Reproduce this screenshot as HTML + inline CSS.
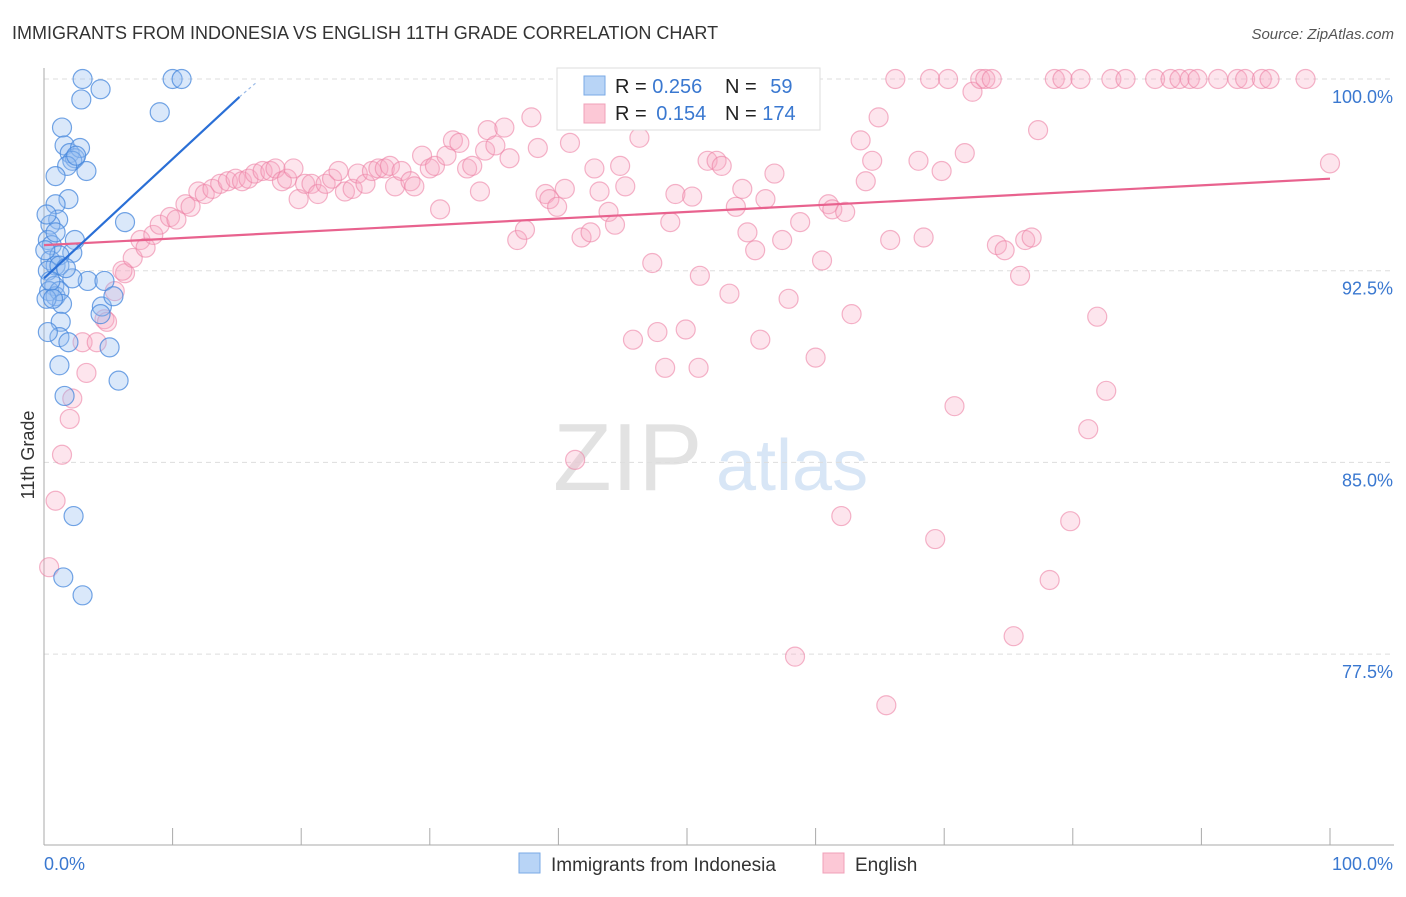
<!DOCTYPE html>
<html><head><meta charset="utf-8"><style>
body{margin:0;background:#fff;font-family:"Liberation Sans",sans-serif;}
svg text{font-family:"Liberation Sans",sans-serif;}
</style></head><body>
<svg id="chart" width="1406" height="892" xmlns="http://www.w3.org/2000/svg">
<text x="12" y="39" font-size="18" fill="#333">IMMIGRANTS FROM INDONESIA VS ENGLISH 11TH GRADE CORRELATION CHART</text>
<text x="1394" y="39" font-size="15" fill="#555" font-style="italic" text-anchor="end">Source: ZipAtlas.com</text>
<g>
<text x="553" y="490" font-size="96" fill="#e2e2e2" font-family="Liberation Serif,serif">ZIP</text>
<text x="716" y="490" font-size="72" fill="#d8e6f6">atlas</text>
</g>
<g id="grid"></g><g id="axes"></g><g id="marks"></g><g id="lines"></g>
<text transform="translate(34,455) rotate(-90)" font-size="18" fill="#333" text-anchor="middle">11th Grade</text>
<g>
<rect x="557" y="68" width="263" height="62" fill="#fff" stroke="#ddd"/>
<rect x="584" y="76" width="21" height="19" fill="#b8d4f6" stroke="#7aaae6"/>
<rect x="584" y="104" width="21" height="19" fill="#fcc8d6" stroke="#f0a0b8"/>
<text x="615" y="93" font-size="20" fill="#222">R = <tspan fill="#3a78d0">0.256</tspan></text>
<text x="725" y="93" font-size="20" fill="#222">N = <tspan fill="#3a78d0" dx="8">59</tspan></text>
<text x="615" y="120" font-size="20" fill="#222">R = <tspan fill="#3a78d0" dx="4">0.154</tspan></text>
<text x="725" y="120" font-size="20" fill="#222">N = <tspan fill="#3a78d0">174</tspan></text>
</g>
<g>
<rect x="519" y="853" width="21" height="20" fill="#b8d4f6" stroke="#7aaae6"/>
<text x="551" y="871" font-size="19" fill="#333">Immigrants from Indonesia</text>
<rect x="823" y="853" width="21" height="20" fill="#fcc8d6" stroke="#f0a0b8"/>
<text x="855" y="871" font-size="19" fill="#333">English</text>
</g>
</svg>
<script>
const yTicks=[100,92.5,85,77.5];
const yTickLabels=["100.0%","92.5%","85.0%","77.5%"];
const xTickLabels=["0.0%","100.0%"];
const blueX=[3.0,4.4,2.9,10.0,10.7,9.0,1.4,1.6,2.0,2.4,2.8,2.2,1.8,3.3,0.9,2.5,1.9,0.9,1.1,0.5,0.3,0.6,2.4,0.5,0.9,2.2,1.2,0.3,1.2,0.8,0.4,0.9,1.2,3.4,2.2,4.7,1.4,4.5,4.4,5.4,5.1,1.3,1.2,1.9,0.3,1.2,1.6,5.8,2.3,1.5,3.0,6.3,0.2,0.5,0.1,0.2,0.9,1.7,0.7];
const blueY=[100,99.6,99.2,100,100,98.7,98.1,97.4,97.1,96.9,97.3,96.8,96.6,96.4,96.2,97.0,95.3,95.1,94.5,94.3,93.7,93.5,93.7,92.9,92.7,93.2,93.1,92.5,92.7,91.9,91.7,91.5,91.7,92.1,92.2,92.1,91.2,91.1,90.8,91.5,89.5,90.5,89.9,89.7,90.1,88.8,87.6,88.2,82.9,80.5,79.8,94.4,91.4,92.1,93.3,94.7,94.0,92.6,91.4];
const pinkX=[0.4,0.9,1.4,2.0,2.2,3.3,3.0,4.1,4.7,4.9,5.5,6.3,6.1,6.9,7.5,7.9,8.5,9.0,9.8,10.3,11.0,11.4,12.0,12.5,13.1,13.7,14.3,14.9,15.4,15.9,16.4,17.0,17.6,18.0,18.5,18.9,19.4,19.8,20.3,20.8,21.3,21.9,22.4,22.9,23.4,24.0,24.4,25.0,25.5,26.0,26.5,26.9,27.3,27.8,28.5,28.8,29.4,30.0,30.4,30.8,31.3,31.8,32.3,32.9,33.3,33.9,34.3,34.5,35.1,35.8,36.2,36.8,37.4,37.9,38.4,39.0,39.3,39.9,40.5,40.9,41.3,41.8,42.5,42.8,43.2,43.9,44.4,44.8,45.2,45.8,46.3,46.7,47.3,47.7,48.3,48.7,49.1,49.9,50.4,50.9,51.0,51.6,52.3,52.7,53.3,53.8,54.3,54.7,55.3,55.7,56.1,56.8,57.4,57.9,58.4,58.8,59.3,60.0,60.5,61.0,61.3,62.0,62.3,62.8,63.5,63.9,64.4,64.9,65.5,65.8,66.2,68.0,68.4,68.9,69.3,69.8,70.3,70.8,71.6,72.2,72.8,73.2,73.7,74.1,74.7,75.4,75.9,76.3,76.8,77.3,78.2,78.6,79.2,79.8,80.6,81.2,81.9,82.6,83.0,84.1,86.4,87.6,88.3,89.1,89.7,91.3,92.8,93.4,94.7,95.3,98.1,100];
const pinkY=[80.9,83.5,85.3,86.7,87.5,88.5,89.7,89.7,90.6,90.5,91.7,92.4,92.5,93.0,93.7,93.4,93.9,94.3,94.6,94.5,95.1,95.0,95.6,95.5,95.7,95.9,96.0,96.1,96.0,96.1,96.3,96.4,96.4,96.5,96.0,96.1,96.5,95.3,95.9,95.9,95.5,95.9,96.1,96.4,95.6,95.7,96.3,95.9,96.4,96.5,96.5,96.6,95.8,96.4,96.0,95.8,97.0,96.5,96.6,94.9,97.0,97.6,97.5,96.5,96.6,95.6,97.2,98.0,97.4,98.1,96.9,93.7,94.1,98.5,97.3,95.5,95.3,95.0,95.7,97.5,85.1,93.8,94.0,96.5,95.6,94.8,94.3,96.6,95.8,89.8,97.7,98.6,92.8,90.1,88.7,94.4,95.5,90.2,95.4,88.7,92.3,96.8,96.8,96.6,91.6,95.0,95.7,94.0,93.3,89.8,95.3,96.3,93.7,91.4,77.4,94.4,99.5,89.1,92.9,95.1,94.9,82.9,94.8,90.8,97.6,96.0,96.8,98.5,75.5,93.7,100,96.8,93.8,100,82.0,96.4,100,87.2,97.1,99.5,100,100,100,93.5,93.3,78.2,92.3,93.7,93.8,98.0,80.4,100,100,82.7,100,86.3,90.7,87.8,100,100,100,100,100,100,100,100,100,100,100,100,100,96.7];
const blueLine=[[0,92.2],[15.2,99.3]];
const blueDash=[[15.2,99.3],[16.6,99.9]];
const pinkLine=[[0,93.5],[100,96.1]];
const NS="http://www.w3.org/2000/svg";
const X0=44,X1=1330,Y100=79,PX=191.7/7.5;
function sx(v){return X0+(X1-X0)*v/100;}
function sy(v){return Y100+(100-v)*PX;}
function mk(tag,attrs,parent){const e=document.createElementNS(NS,tag);for(const k in attrs)e.setAttribute(k,attrs[k]);parent.appendChild(e);return e;}
const grid=document.getElementById('grid'),axes=document.getElementById('axes'),marks=document.getElementById('marks'),lines=document.getElementById('lines');
yTicks.forEach((t,i)=>{
 const l=mk('line',{x1:X0,x2:1394,y1:sy(t),y2:sy(t),stroke:'#ddd','stroke-dasharray':'5,4'},grid);
 
 
 const tx=mk('text',{x:1393,y:sy(t)+24,'font-size':18,fill:'#3a78d0','text-anchor':'end'},axes);
 tx.textContent=yTickLabels[i];
 
 
});
const ya=mk('line',{x1:X0,x2:X0,y1:68,y2:845,stroke:'#aaa'},axes);


const xa=mk('line',{x1:X0,x2:1394,y1:845,y2:845,stroke:'#aaa'},axes);


for(let i=0;i<=10;i++){
 const tk=mk('line',{x1:sx(i*10),x2:sx(i*10),y1:828,y2:845,stroke:'#aaa'},axes);
 
 
}
const xl0=mk('text',{x:44,y:870,'font-size':18,fill:'#3a78d0'},axes);
xl0.textContent=xTickLabels[0];


const xl1=mk('text',{x:1393,y:870,'font-size':18,fill:'#3a78d0','text-anchor':'end'},axes);
xl1.textContent=xTickLabels[1];


pinkX.forEach((v,i)=>{
 const c=mk('circle',{cx:sx(v),cy:sy(pinkY[i]),r:9.5,fill:'rgba(248,170,195,0.3)',stroke:'rgba(236,130,165,0.6)','stroke-width':1.2},marks);
 
 
});
blueX.forEach((v,i)=>{
 const c=mk('circle',{cx:sx(v),cy:sy(blueY[i]),r:9.5,fill:'rgba(150,190,240,0.35)',stroke:'rgba(70,135,220,0.75)','stroke-width':1.2},marks);
 
 
});
const pl=mk('line',{x1:sx(pinkLine[0][0]),y1:sy(pinkLine[0][1]),x2:sx(pinkLine[1][0]),y2:sy(pinkLine[1][1]),stroke:'#e8628e','stroke-width':2.2},lines);


const bl=mk('line',{x1:sx(blueLine[0][0]),y1:sy(blueLine[0][1]),x2:sx(blueLine[1][0]),y2:sy(blueLine[1][1]),stroke:'#2a6fd6','stroke-width':2.2},lines);


const bd=mk('line',{x1:sx(blueDash[0][0]),y1:sy(blueDash[0][1]),x2:sx(blueDash[1][0]),y2:sy(blueDash[1][1]),stroke:'#9bbbe8','stroke-width':1.2,'stroke-dasharray':'3,3'},lines);


</script>
</body></html>
